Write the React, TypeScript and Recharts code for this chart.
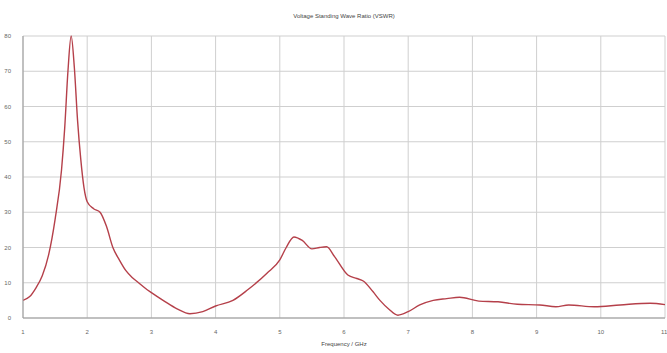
import React from 'react';
import {
  LineChart,
  Line,
  XAxis,
  YAxis,
  CartesianGrid,
  Label,
} from 'recharts';

// Frequency in GHz
const freq = [
  1.0, 1.1, 1.2, 1.3, 1.4, 1.5, 1.6, 1.65, 1.7, 1.75, 1.8, 1.85, 1.9, 1.95,
  2.0, 2.1, 2.2, 2.3, 2.4, 2.5, 2.6, 2.7, 2.8, 2.9, 3.0, 3.2, 3.4, 3.6, 3.8,
  4.0, 4.27, 4.5, 4.8, 5.0, 5.1, 5.22, 5.35, 5.5, 5.62, 5.73, 5.85, 6.06,
  6.2, 6.3, 6.45, 6.56, 6.7, 6.84, 7.0, 7.18, 7.39, 7.6, 7.8, 8.1, 8.4, 8.7,
  9.05, 9.3, 9.5, 9.9, 10.3, 10.77, 11.0,
];

// VSWR values
const vswr = [
  5, 6, 8.5, 12, 18, 28, 42, 54, 70, 80, 71, 56, 45, 37,
  33, 31, 30, 26, 20, 16.5, 13.5, 11.5, 10, 8.5, 7.2, 4.8, 2.6, 1.2, 1.8,
  3.4, 5, 8, 12.7, 16.5, 20, 23, 22, 19.6, 20, 20.2, 17.5, 12.2,
  11.2, 10.5, 7.5, 5, 2.5, 0.8, 1.8, 3.7, 5, 5.5, 5.9, 4.8, 4.6, 3.9,
  3.7, 3.2, 3.7, 3.2, 3.7, 4.2, 3.8,
];

const xTicks = [1, 2, 3, 4, 5, 6, 7, 8, 9, 10, 11];
const yTicks = [0, 10, 20, 30, 40, 50, 60, 70, 80];

const chartTitle = 'Voltage Standing Wave Ratio (VSWR)';
const xLabel = 'Frequency / GHz';

const data = freq.map((f, i) => ({ f, v: vswr[i] }));

const tickStyle = { fontSize: 6, fill: '#666', fontFamily: 'Liberation Sans, Arial, sans-serif' };

export default function App() {
  return (
    <div style={{ position: 'absolute', left: 0, top: 0, width: 667, height: 353, background: '#fff' }}>
      <div
        style={{
          position: 'absolute',
          left: 23,
          width: 642,
          top: 13,
          textAlign: 'center',
          fontSize: 6,
          color: '#444',
          fontFamily: 'Liberation Sans, Arial, sans-serif',
        }}
      >
        {chartTitle}
      </div>
      <LineChart
        width={667}
        height={353}
        data={data}
        margin={{ top: 36, right: 2, bottom: 0, left: 0 }}
      >
        <CartesianGrid stroke="#cfcfcf" strokeWidth={1} />
        <XAxis
          dataKey="f"
          type="number"
          domain={[1, 11]}
          ticks={xTicks}
          height={35}
          tick={tickStyle}
          tickLine={false}
          axisLine={{ stroke: '#999' }}
          tickMargin={6}
        >
          <Label
            value={xLabel}
            position="insideBottom"
            offset={7}
            style={{ fontSize: 6, fill: '#444', fontFamily: 'Liberation Sans, Arial, sans-serif' }}
          />
        </XAxis>
        <YAxis
          type="number"
          domain={[0, 80]}
          ticks={yTicks}
          width={23}
          tick={tickStyle}
          tickLine={false}
          axisLine={{ stroke: '#999' }}
          tickMargin={6}
        />
        <Line
          type="monotone"
          dataKey="v"
          stroke="#b5404a"
          strokeWidth={1.4}
          dot={false}
          isAnimationActive={false}
        />
      </LineChart>
    </div>
  );
}
